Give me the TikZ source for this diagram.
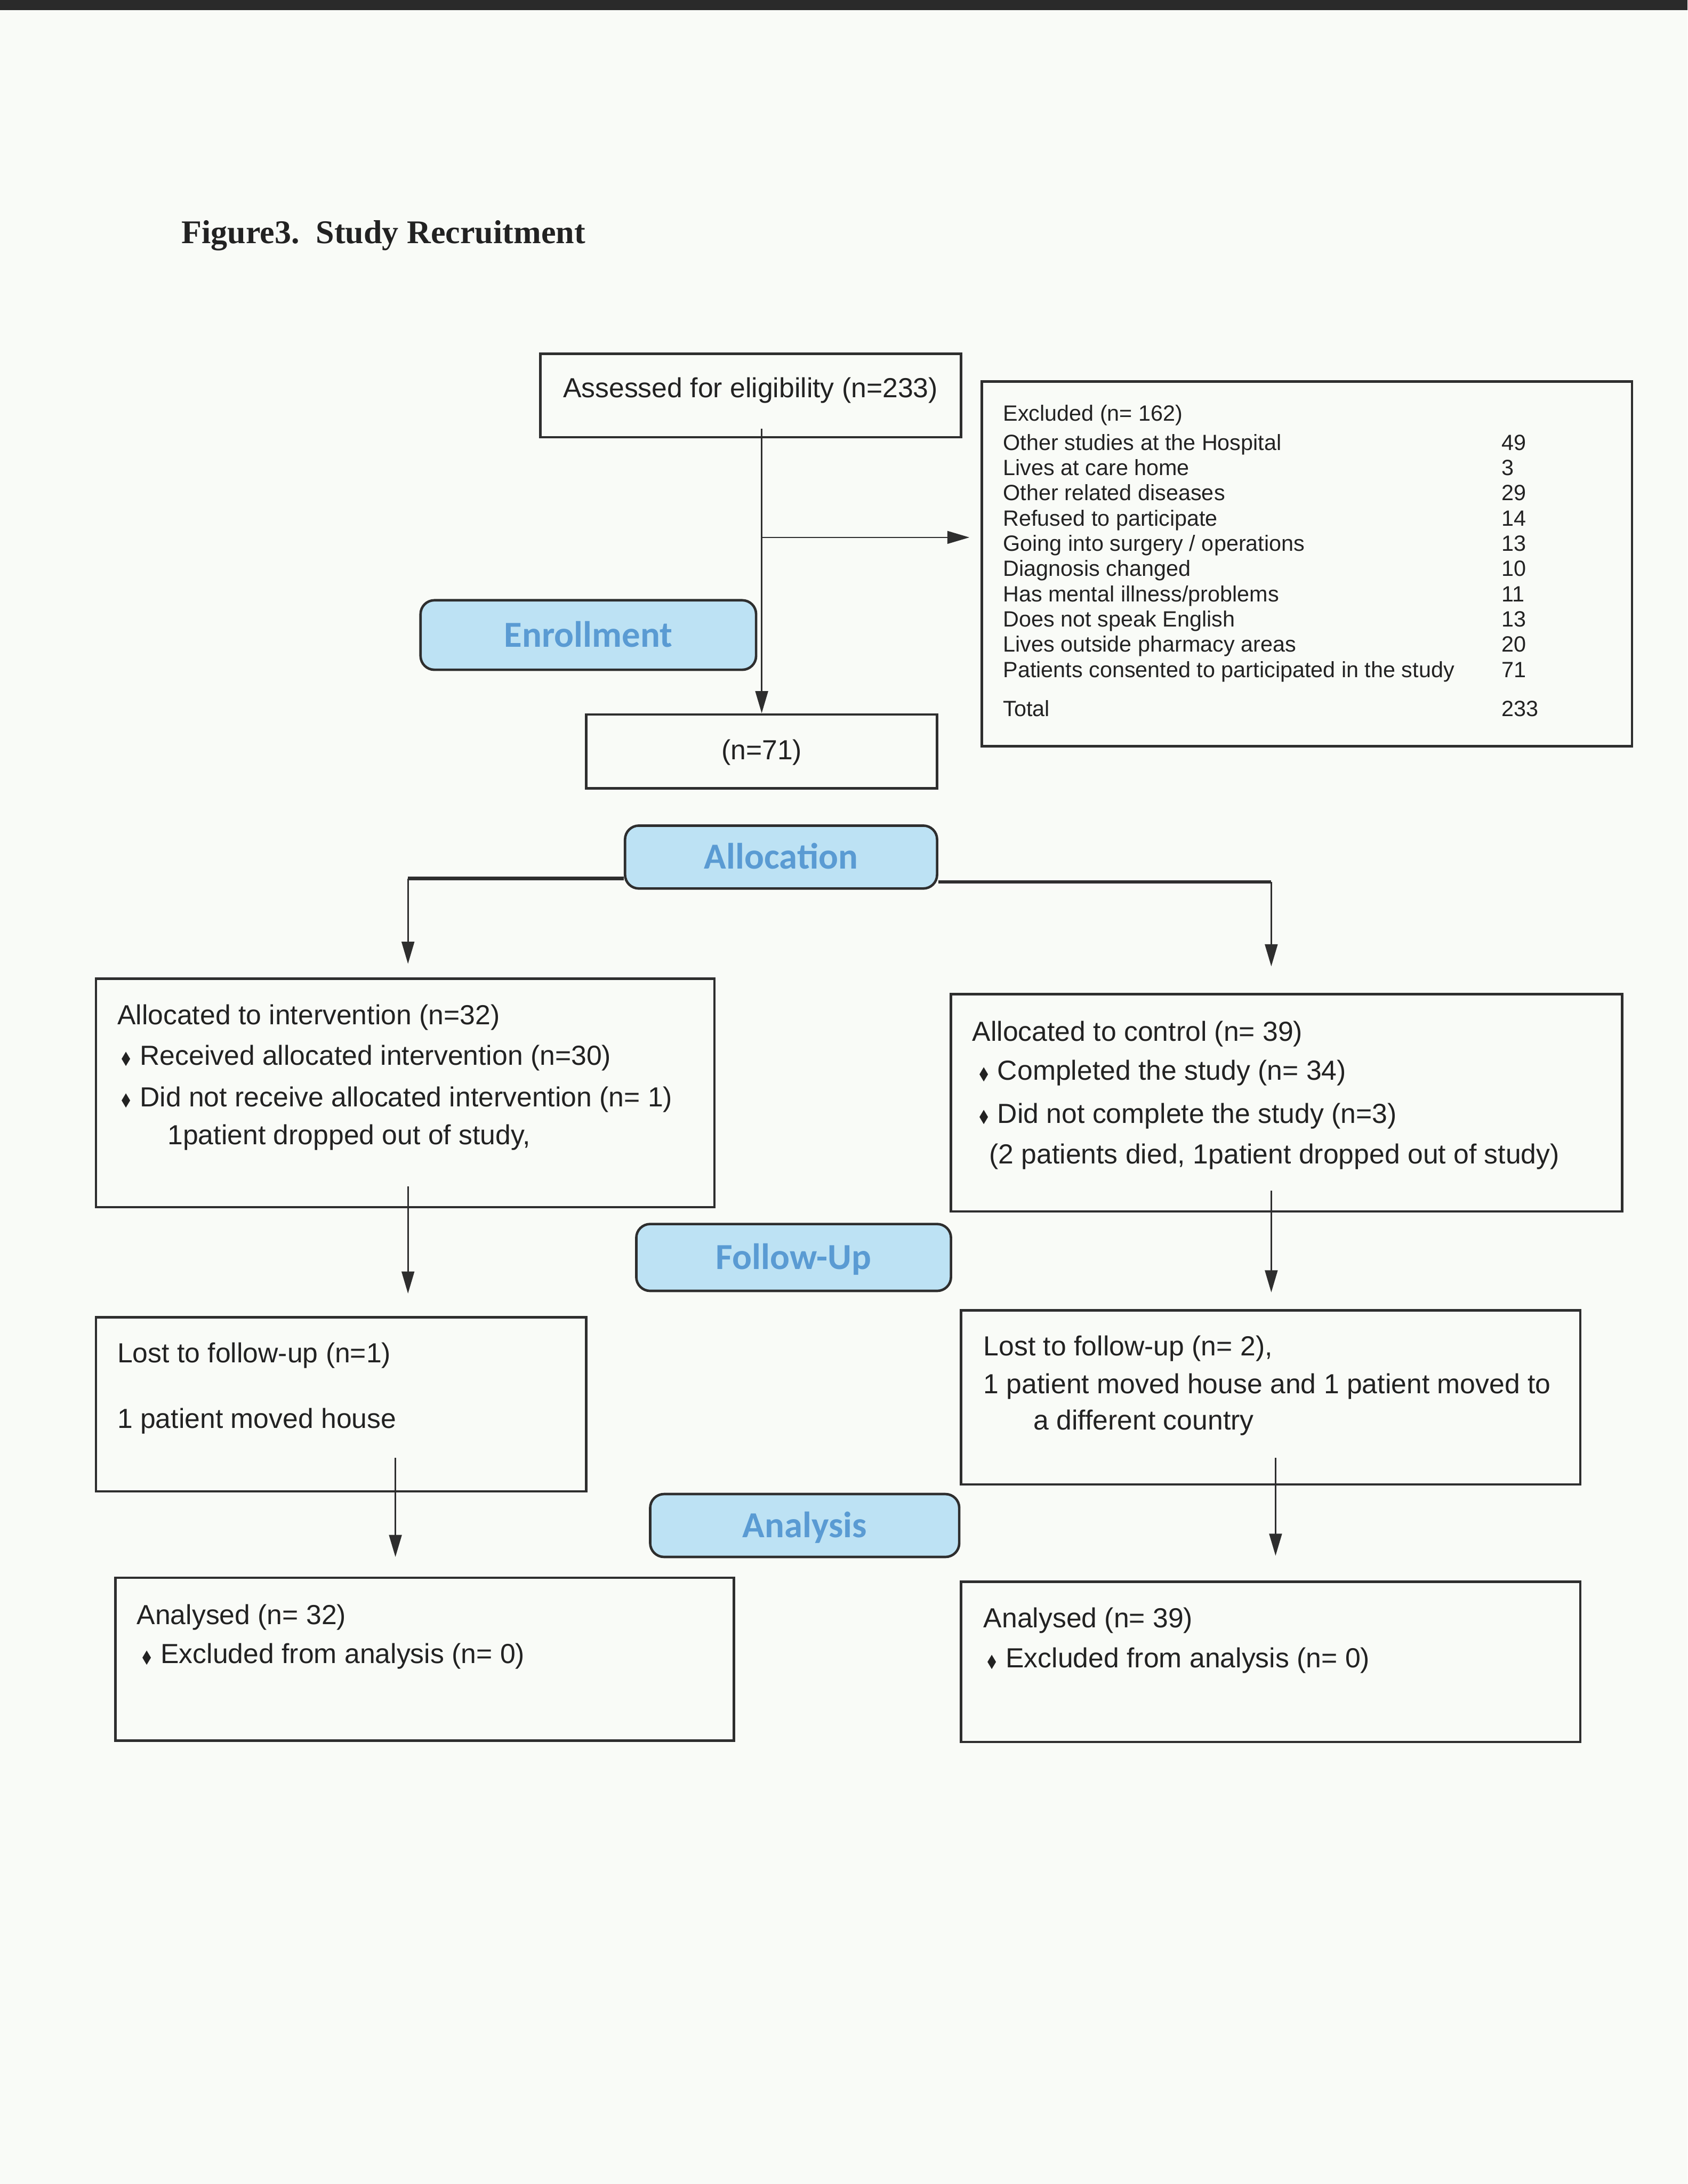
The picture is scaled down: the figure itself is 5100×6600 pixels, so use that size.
\documentclass[tikz,border=0pt]{standalone}
\usepackage{fontspec}
\usepackage{graphicx}
\usetikzlibrary{arrows.meta}
\setmainfont{Liberation Sans}
\newfontfamily\titlefont{Liberation Serif}
\newfontfamily\stagefont{Carlito}
\newfontfamily\symfont{DejaVu Sans}
\definecolor{pagebg}{HTML}{F9FBF7}
\definecolor{topband}{HTML}{2A2A2A}
\definecolor{boxc}{HTML}{2E2E2E}
\definecolor{textc}{HTML}{222222}
\definecolor{stagefill}{HTML}{BDE2F4}
\definecolor{stagetext}{HTML}{5A9BD3}
\newcommand\bul{\llap{\raisebox{0.3pt}{\scalebox{0.6}[1]{\symfont\fontsize{6.8}{7}\selectfont ◆}}\hspace{3.4pt}}}
\begin{document}
\begin{tikzpicture}[x=0.12pt,y=-0.12pt,
  box/.style={draw=boxc, line width=0.9pt, inner sep=0pt},
  stage/.style={draw=boxc, line width=0.9pt, rounded corners=5pt, fill=stagefill, text=stagetext,
    font=\stagefont\bfseries\fontsize{13.3}{14}\selectfont, inner sep=0pt, text height=8.6pt, text depth=0pt},
  txt/.style={anchor=base west, inner sep=0pt, text=textc, font=\fontsize{10}{12}\selectfont},
  conn/.style={draw=boxc, line width=0.5pt, -{Triangle[length=8pt,width=4.6pt]}},
  bar/.style={draw=boxc, line width=1.3pt}]
\useasboundingbox (0,0) rectangle (5100,6600);
\fill[pagebg] (0,0) rectangle (5100,6600);
\fill[topband] (0,0) rectangle (5100,31);

% title
\node[anchor=base west, inner sep=0pt, text=textc, font=\titlefont\bfseries\fontsize{12}{14}\selectfont] (title) at (547,736) {Figure3.\ \ Study Recruitment};

% boxes
\node[box, minimum width=152.52pt, minimum height=30.24pt] (assess) at (2268.5,1195) {};
\node[box, minimum width=235.8pt, minimum height=132.24pt] (excl) at (3949.5,1704) {};
\node[box, minimum width=127.2pt, minimum height=26.76pt] (n71) at (2302,2270.5) {};
\node[box, minimum width=224.28pt, minimum height=82.8pt] (interv) at (1224.5,3303) {};
\node[box, minimum width=243.36pt, minimum height=78.84pt] (ctrl) at (3888,3332.5) {};
\node[box, minimum width=177.84pt, minimum height=63.12pt] (lostL) at (1031,4244) {};
\node[box, minimum width=224.64pt, minimum height=63.12pt] (lostR) at (3840,4223) {};
\node[box, minimum width=224.28pt, minimum height=59.04pt] (analL) at (1283.5,5014) {};
\node[box, minimum width=224.64pt, minimum height=58.08pt] (analR) at (3840,5022) {};

% stage labels
\node[stage, minimum width=121.68pt, minimum height=25.2pt] (enroll) at (1778,1919) {Enrollment};
\node[stage, minimum width=113.16pt, minimum height=22.8pt] (alloc) at (2360.5,2590) {Allocation};
\node[stage, minimum width=114.12pt, minimum height=24.24pt] (follow) at (2398.5,3800) {Follow-Up};
\node[stage, minimum width=112.08pt, minimum height=22.8pt] (analysis) at (2432,4610) {Analysis};

% texts
\node[txt, anchor=base] (assessT) at (2268,1202) {Assessed for eligibility (n=233)};
\node[anchor=base west, inner sep=0pt, text=textc, font=\fontsize{8}{9.15}\selectfont] (exclT) at (3030,1272)
 {\begin{tabular}[t]{@{}p{180.72pt}@{}l@{}}
 Excluded (n= 162) & \\[1.44pt]
 Other studies at the Hospital & 49\\
 Lives at care home & 3\\
 Other related diseases & 29\\
 Refused to participate & 14\\
 Going into surgery / operations & 13\\
 Diagnosis changed & 10\\
 Has mental illness/problems & 11\\
 Does not speak English & 13\\
 Lives outside pharmacy areas & 20\\
 Patients consented to participated in the study & 71\\[5pt]
 Total & 233
 \end{tabular}};
\node[txt, anchor=base] (n71T) at (2302,2296) {(n=71)};

\node[txt] (iv1) at (353,3096) {Allocated to intervention (n=32)};
\node[txt] (iv2) at (421,3218) {\bul Received allocated intervention (n=30)};
\node[txt] (iv3) at (421,3344) {\bul Did not receive allocated intervention (n= 1)};
\node[txt] (iv4) at (505,3458) {1patient dropped out of study,};

\node[txt] (ct1) at (2937,3146) {Allocated to control (n= 39)};
\node[txt] (ct2) at (3013,3264) {\bul Completed the study (n= 34)};
\node[txt] (ct3) at (3013,3394) {\bul Did not complete the study (n=3)};
\node[txt] (ct4) at (2988,3516) {(2 patients died, 1patient dropped out of study)};

\node[txt] (ll1) at (353,4118) {Lost to follow-up (n=1)};
\node[txt] (ll2) at (353,4316) {1 patient moved house};

\node[txt] (lr1) at (2971,4097) {Lost to follow-up (n= 2),};
\node[txt] (lr2) at (2971,4211) {1 patient moved house and 1 patient moved to};
\node[txt] (lr3) at (3122,4320) {a different country};

\node[txt] (al1) at (412,4909) {Analysed (n= 32)};
\node[txt] (al2) at (484,5027) {\bul Excluded from analysis (n= 0)};
\node[txt] (ar1) at (2971,4918) {Analysed (n= 39)};
\node[txt] (ar2) at (3038,5040) {\bul Excluded from analysis (n= 0)};

% connectors
\coordinate (br) at (2302,1624);
\coordinate (jL) at (1233,2655);
\coordinate (jR) at (3842,2665);
\coordinate (sL2) at (1233,3585);
\coordinate (sR2) at (3842,3598);
\coordinate (sL3) at (1195,4406);
\coordinate (sR3) at (3855,4406);

\draw[conn] ([yshift=3.5pt]assess.south -| n71.north) -- (n71.north);
\draw[conn, shorten >=4pt] (br) -- (br -| excl.west);
\draw[bar] (jL -| alloc.west) -- (jL);
\draw[bar] (jR -| alloc.east) -- (jR);
\draw[conn, shorten >=5pt] (jL) -- (jL |- interv.north);
\draw[conn, shorten >=9.6pt] (jR) -- (jR |- ctrl.north);
\draw[conn, shorten >=8.2pt] (sL2) -- (sL2 |- lostL.north);
\draw[conn, shorten >=6.1pt] (sR2) -- (sR2 |- lostR.north);
\draw[conn, shorten >=7.1pt] (sL3) -- (sL3 |- analL.north);
\draw[conn, shorten >=9pt] (sR3) -- (sR3 |- analR.north);
\end{tikzpicture}
\end{document}
